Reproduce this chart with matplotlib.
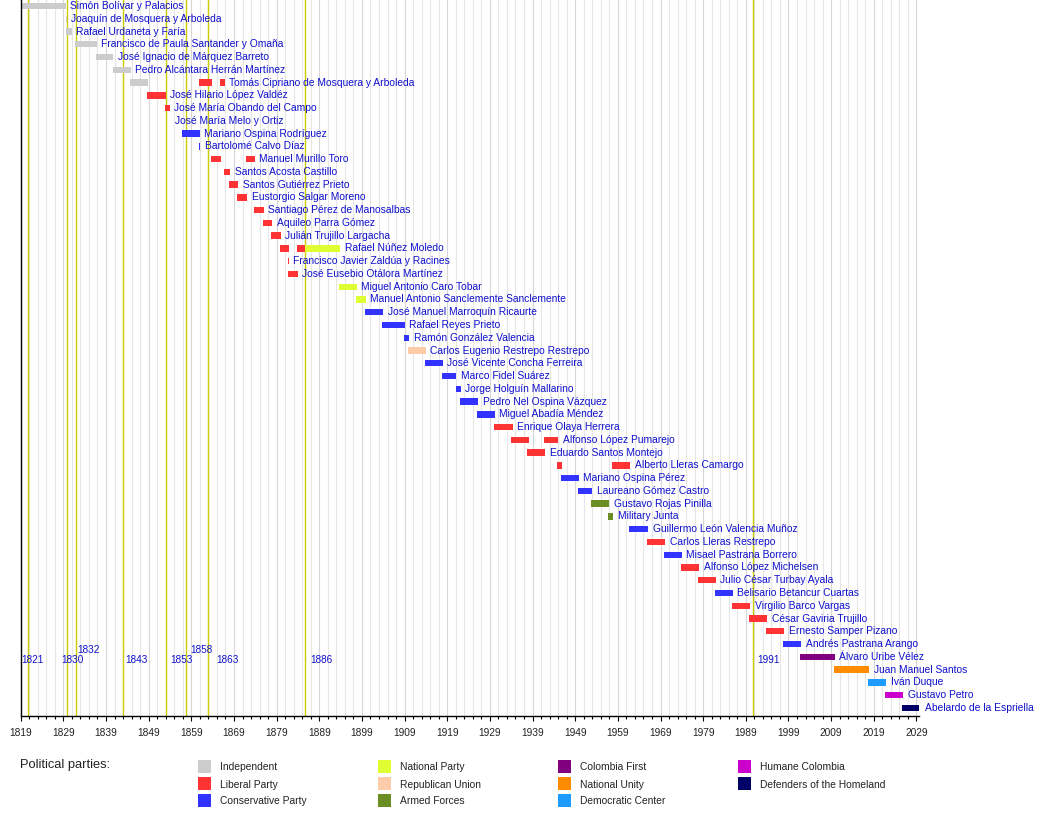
import matplotlib
matplotlib.use('Agg')
import matplotlib.pyplot as plt
from matplotlib.patches import Rectangle

plt.rcParams['font.family'] = ['Liberation Sans', 'DejaVu Sans']

# Presidents of Colombia, one row each, top to bottom
names = [
    'Simón Bolívar y Palacios', 'Joaquín de Mosquera y Arboleda', 'Rafael Urdaneta y Faría',
    'Francisco de Paula Santander y Omaña', 'José Ignacio de Márquez Barreto',
    'Pedro Alcántara Herrán Martínez', 'Tomás Cipriano de Mosquera y Arboleda',
    'José Hilario López Valdéz', 'José María Obando del Campo', 'José María Melo y Ortiz',
    'Mariano Ospina Rodríguez', 'Bartolomé Calvo Díaz', 'Manuel Murillo Toro',
    'Santos Acosta Castillo', 'Santos Gutiérrez Prieto', 'Eustorgio Salgar Moreno',
    'Santiago Pérez de Manosalbas', 'Aquileo Parra Gómez', 'Julián Trujillo Largacha',
    'Rafael Núñez Moledo', 'Francisco Javier Zaldúa y Racines', 'José Eusebio Otálora Martínez',
    'Miguel Antonio Caro Tobar', 'Manuel Antonio Sanclemente Sanclemente',
    'José Manuel Marroquín Ricaurte', 'Rafael Reyes Prieto', 'Ramón González Valencia',
    'Carlos Eugenio Restrepo Restrepo', 'José Vicente Concha Ferreira', 'Marco Fidel Suárez',
    'Jorge Holguín Mallarino', 'Pedro Nel Ospina Vázquez', 'Miguel Abadía Méndez',
    'Enrique Olaya Herrera', 'Alfonso López Pumarejo', 'Eduardo Santos Montejo',
    'Alberto Lleras Camargo', 'Mariano Ospina Pérez', 'Laureano Gómez Castro',
    'Gustavo Rojas Pinilla', 'Military Junta', 'Guillermo León Valencia Muñoz',
    'Carlos Lleras Restrepo', 'Misael Pastrana Borrero', 'Alfonso López Michelsen',
    'Julio César Turbay Ayala', 'Belisario Betancur Cuartas', 'Virgilio Barco Vargas',
    'César Gaviria Trujillo', 'Ernesto Samper Pizano', 'Andrés Pastrana Arango',
    'Álvaro Uribe Vélez', 'Juan Manuel Santos', 'Iván Duque', 'Gustavo Petro',
    'Abelardo de la Espriella',
]

# terms per president: (start year, end year, party)
terms = [
    [(1819.0, 1829.6, 'IND')],
    [(1829.6, 1829.8, 'IND')],
    [(1829.7, 1831.0, 'IND')],
    [(1831.8, 1836.8, 'IND')],
    [(1836.7, 1840.7, 'IND')],
    [(1840.7, 1844.8, 'IND')],
    [(1844.6, 1848.8, 'IND'), (1860.8, 1863.9, 'LIB'), (1865.8, 1866.9, 'LIB')],
    [(1848.6, 1853.0, 'LIB')],
    [(1852.8, 1854.0, 'LIB')],
    [(1853.9, 1854.1, 'ARM')],
    [(1856.8, 1861.0, 'CON')],
    [(1860.9, 1861.1, 'CON')],
    [(1863.7, 1866.0, 'LIB'), (1871.8, 1873.9, 'LIB')],
    [(1866.6, 1868.1, 'LIB')],
    [(1867.9, 1870.0, 'LIB')],
    [(1869.8, 1872.1, 'LIB')],
    [(1873.7, 1876.0, 'LIB')],
    [(1875.8, 1878.0, 'LIB')],
    [(1877.7, 1880.0, 'LIB')],
    [(1879.8, 1882.0, 'LIB'), (1883.8, 1885.7, 'LIB'), (1885.7, 1893.9, 'NAT')],
    [(1881.6, 1881.9, 'LIB')],
    [(1881.7, 1884.0, 'LIB')],
    [(1893.6, 1897.8, 'NAT')],
    [(1897.6, 1899.9, 'NAT')],
    [(1899.8, 1904.0, 'CON')],
    [(1903.8, 1909.0, 'CON')],
    [(1908.8, 1910.1, 'CON')],
    [(1909.9, 1914.0, 'REP')],
    [(1913.8, 1918.0, 'CON')],
    [(1917.8, 1921.1, 'CON')],
    [(1921.0, 1922.2, 'CON')],
    [(1922.0, 1926.3, 'CON')],
    [(1925.9, 1930.2, 'CON')],
    [(1930.0, 1934.3, 'LIB')],
    [(1933.9, 1938.1, 'LIB'), (1941.7, 1945.0, 'LIB')],
    [(1937.7, 1942.0, 'LIB')],
    [(1944.7, 1945.9, 'LIB'), (1957.6, 1961.9, 'LIB')],
    [(1945.7, 1949.9, 'CON')],
    [(1949.7, 1953.0, 'CON')],
    [(1952.7, 1957.0, 'ARM')],
    [(1956.7, 1957.9, 'ARM')],
    [(1961.6, 1966.1, 'CON')],
    [(1965.8, 1970.1, 'LIB')],
    [(1969.8, 1974.0, 'CON')],
    [(1973.8, 1978.1, 'LIB')],
    [(1977.8, 1982.0, 'LIB')],
    [(1981.8, 1986.0, 'CON')],
    [(1985.8, 1990.0, 'LIB')],
    [(1989.8, 1994.0, 'LIB')],
    [(1993.8, 1998.0, 'LIB')],
    [(1997.8, 2002.0, 'CON')],
    [(2001.7, 2009.9, 'CPR')],
    [(2009.7, 2017.9, 'UNI')],
    [(2017.7, 2021.9, 'CDM')],
    [(2021.7, 2025.9, 'HUM')],
    [(2025.6, 2029.9, 'DEF')],
]

party_keys = ['IND', 'LIB', 'CON', 'NAT', 'REP', 'ARM', 'CPR', 'UNI', 'CDM', 'HUM', 'DEF']
party_names = ['Independent', 'Liberal Party', 'Conservative Party', 'National Party',
               'Republican Union', 'Armed Forces', 'Colombia First', 'National Unity',
               'Democratic Center', 'Humane Colombia', 'Defenders of the Homeland']
party_colors = ['#cccccc', '#ff3333', '#3333ff', '#e0ff33', '#ffccaa', '#6b8e23',
                '#800080', '#ff8c00', '#1e9bff', '#cc00cc', '#000066']
colors = dict(zip(party_keys, party_colors))

# constitutions (vertical lines)
const_years = [1820.8, 1829.8, 1831.9, 1842.9, 1853.0, 1857.8, 1862.8, 1885.7, 1990.7]
const_labels = ['1821', '1830', '1832', '1843', '1853', '1858', '1863', '1886', '1991']
# label placement: pixel shift from the line, and whether raised
const_dx_px = [-7.6, -5.7, 2.0, 3.0, 5.0, 4.4, 8.7, 5.4, 4.0]
const_raised = [False, False, True, False, False, True, False, False, False]

W, H = 1050, 818
fig = plt.figure(figsize=(W / 100, H / 100), dpi=100)
ax = fig.add_axes([20.5 / W, 102 / H, (919 - 20.5) / W, 716 / H])

text_blue = '#1010cc'

ax.set_xlim(1818.95, 2029.6)
ax.set_ylim(55.64, -0.47)

for yr in const_years:
    ax.axvline(yr, color='#cccc00', lw=1.0, zorder=1.5)

for i, (name, row_terms) in enumerate(zip(names, terms)):
    for start, end, party in row_terms:
        ax.barh(i, end - start, left=start, height=0.5, color=colors[party],
                linewidth=0, zorder=2)
    last_end = max(t[1] for t in row_terms)
    ax.annotate(name, xy=(last_end, i), xytext=(3.2, 0), textcoords='offset points',
                va='center', ha='left', fontsize=7.4, color=text_blue,
                annotation_clip=False, zorder=3)

for yr, lab, dx, raised in zip(const_years, const_labels, const_dx_px, const_raised):
    row = 50.47 if raised else 51.25
    ax.annotate(lab, xy=(yr, row), xytext=(dx * 0.72, 0), textcoords='offset points',
                va='center', ha='left', fontsize=7.2, color=text_blue, zorder=3)

# axes styling
ax.spines['top'].set_visible(False)
ax.spines['right'].set_visible(False)
ax.spines['left'].set_color('black')
ax.spines['bottom'].set_color('black')
ax.spines['left'].set_linewidth(1.0)
ax.spines['bottom'].set_linewidth(1.0)
ax.set_yticks([])
ax.set_xticks(range(1819, 2030, 10))
ax.set_xticks(range(1821, 2030, 2), minor=True)
ax.tick_params(axis='x', which='major', length=3.5, width=0.8, labelsize=7.3,
               labelcolor='#222222', pad=5.5)
ax.tick_params(axis='x', which='minor', length=2.5, width=0.8)
ax.set_axisbelow(True)
ax.grid(True, axis='x', which='major', color='#d6d6d6', lw=0.8)
ax.grid(True, axis='x', which='minor', color='#e6e6e6', lw=0.8)

# legend
def fx(px):
    return px / W

def fy(py):
    return 1 - py / H

fig.text(fx(20), fy(765), 'Political parties:', fontsize=9.3, color='#222222',
         va='center', ha='left')
for k, (pname, pcol) in enumerate(zip(party_names, party_colors)):
    col, r = divmod(k, 3)
    x0 = 198 + 180 * col
    yc = 766.5 + 17 * r
    fig.add_artist(Rectangle((fx(x0), fy(yc + 6.5)), 13 / W, 13 / H,
                             transform=fig.transFigure, color=pcol, lw=0))
    fig.text(fx(x0 + 22), fy(yc + 1), pname, fontsize=7.4, color='#222222',
             va='center', ha='left')

fig.savefig('out.png', dpi=100)
